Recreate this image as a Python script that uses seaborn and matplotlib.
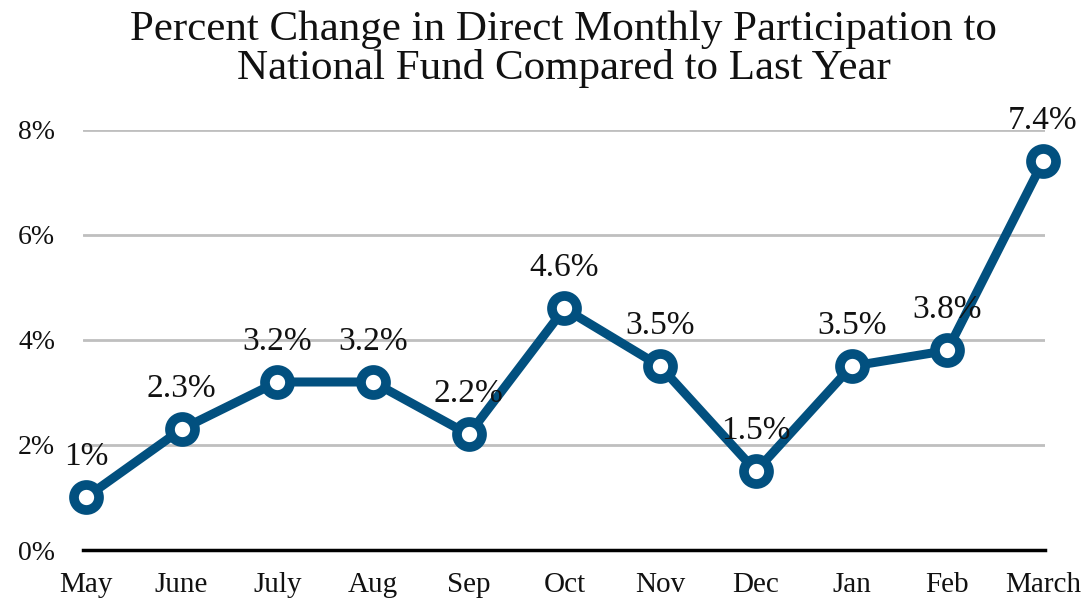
import numpy as np
import pandas as pd
import seaborn as sns
import matplotlib.pyplot as plt

# data
months = ["May", "June", "July", "Aug", "Sep", "Oct", "Nov", "Dec", "Jan", "Feb", "March"]
pct_change = [1.0, 2.3, 3.2, 3.2, 2.2, 4.6, 3.5, 1.5, 3.5, 3.8, 7.4]
y_ticks = [0, 2, 4, 6, 8]

blue = "#02507f"
ink = "#111111"

sns.set_style("white")
plt.rcParams["font.family"] = ["Liberation Serif", "DejaVu Serif"]

df = pd.DataFrame({"idx": np.arange(len(months)), "month": months, "pct": pct_change})

fig = plt.figure(figsize=(10.86, 5.99), dpi=100)
ax = fig.add_axes([0.0764, 0.0818, 0.8858, 0.7012])

sns.lineplot(data=df, x="idx", y="pct", ax=ax, color=blue, lw=6.5,
             marker="o", markersize=18, markerfacecolor="white",
             markeredgecolor=blue, markeredgewidth=7, clip_on=False, zorder=3)

# value labels above each point
for i, v in zip(df["idx"], df["pct"]):
    ax.annotate(f"{v:g}%", (i, v), xytext=(0, 18), textcoords="offset points",
                ha="center", va="bottom", fontsize=24, color=ink)

ax.set_xlim(-0.03, 10.02)
ax.set_ylim(0, 8)
ax.set_yticks(y_ticks)
ax.set_yticklabels([f"{t}%" for t in y_ticks], fontsize=20, color=ink)
ax.set_xticks(df["idx"])
ax.set_xticklabels(months, fontsize=21, color=ink)
ax.tick_params(axis="x", length=0, pad=16)
ax.tick_params(axis="y", length=0, pad=20)
ax.set_xlabel("")
ax.set_ylabel("")

ax.yaxis.grid(True, color="#bfbfbf", lw=2)
ax.set_axisbelow(True)
for s in ["top", "right", "left"]:
    ax.spines[s].set_visible(False)
ax.spines["bottom"].set_color("black")
ax.spines["bottom"].set_linewidth(2.5)
ax.spines["bottom"].set_zorder(2)

fig.suptitle("Percent Change in Direct Monthly Participation to\nNational Fund Compared to Last Year",
             fontsize=31, x=0.519, y=0.982, linespacing=1.0, color=ink)

fig.savefig("out.png", dpi=100)
